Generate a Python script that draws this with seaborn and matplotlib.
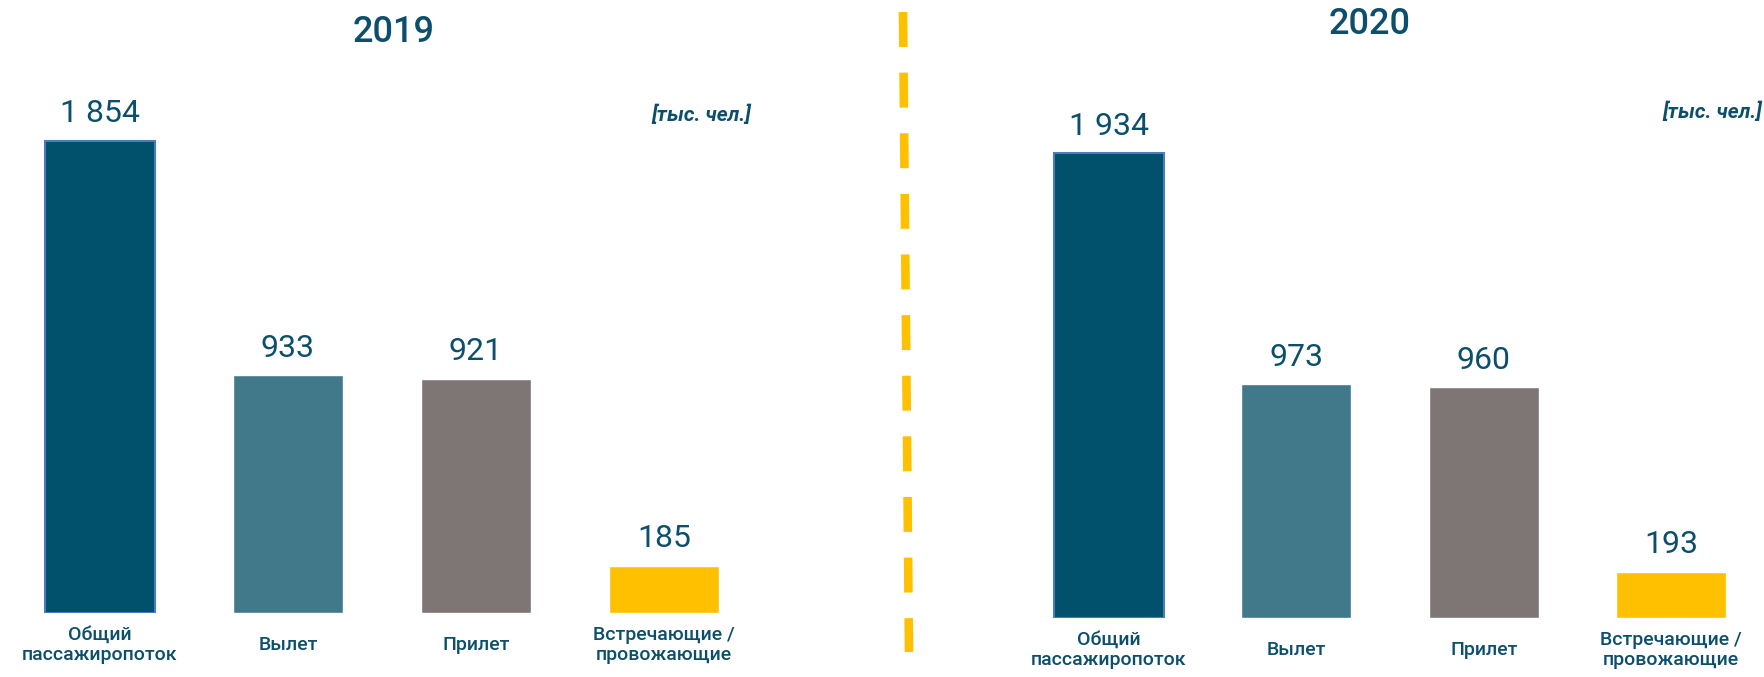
import numpy as np
import pandas as pd
import matplotlib.pyplot as plt
from matplotlib.lines import Line2D
import seaborn as sns

# data
categories = ['Общий\nпассажиропоток', 'Вылет', 'Прилет', 'Встречающие /\nпровожающие']
values_2019 = [1854, 933, 921, 185]
values_2020 = [1934, 973, 960, 193]
years = ['2019', '2020']
unit_label = '[тыс. чел.]'

bar_colors = ['#01516D', '#41798B', '#7D7675', '#FFC000']
text_color = '#0B4F6C'
palette = dict(zip(categories, bar_colors))

sns.set_style('white')
plt.rcParams['font.family'] = ['Roboto', 'DejaVu Sans']

W, H = 1765, 677
fig = plt.figure(figsize=(W / 100, H / 100), dpi=100)

# axes boxes in pixels: left, right, baseline, top
boxes = [(6, 758, 613, 100), (1015, 1765, 618, 105)]
ylims = [2015, 2134]
title_pos = [(394, 32), (1370, 25)]
unit_pos = [(751, 115), (1762, 112)]

fmt_val = lambda v: f'{v:,.0f}'.replace(',', ' ')

for i, vals in enumerate([values_2019, values_2020]):
    l, r, b, t = boxes[i]
    ax = fig.add_axes([l / W, 1 - b / H, (r - l) / W, (b - t) / H])
    df = pd.DataFrame({'cat': categories, 'val': vals})
    sns.barplot(data=df, x='cat', y='val', hue='cat', palette=palette,
                legend=False, errorbar=None, width=0.585, saturation=1, ax=ax)
    ax.set_ylim(0, ylims[i])
    ax.set_xlim(-0.5, 3.5)
    ax.patches[0].set_edgecolor('#4A7EBB')
    ax.patches[0].set_linewidth(1.5)
    for c in ax.containers:
        ax.bar_label(c, fmt=fmt_val, padding=9, fontsize=23,
                     color=text_color, clip_on=False)
    ax.set_xlabel('')
    ax.set_ylabel('')
    ax.set_yticks([])
    ax.set_xticks(range(len(categories)))
    ax.set_xticklabels(categories, va='center', fontweight='medium',
                       linespacing=1.15, fontsize=14, color=text_color)
    ax.tick_params(axis='x', length=0, pad=23)
    sns.despine(ax=ax, left=True, bottom=True)

    fig.text(title_pos[i][0] / W, 1 - title_pos[i][1] / H, years[i],
             ha='center', va='center', fontsize=26, color=text_color,
             fontweight='medium')
    fig.text(unit_pos[i][0] / W, 1 - unit_pos[i][1] / H, unit_label,
             ha='right', va='center', fontsize=15, color=text_color,
             fontstyle='italic', fontweight='bold')

# yellow dashed divider between the two years
fig.add_artist(Line2D([903 / W, 909 / W], [1 - 12 / H, 1 - 652 / H],
                      transform=fig.transFigure, color='#FFC000', lw=6.2,
                      linestyle=(0, (4.06, 2.98)), dash_capstyle='butt'))

fig.savefig('out.png', dpi=100)
